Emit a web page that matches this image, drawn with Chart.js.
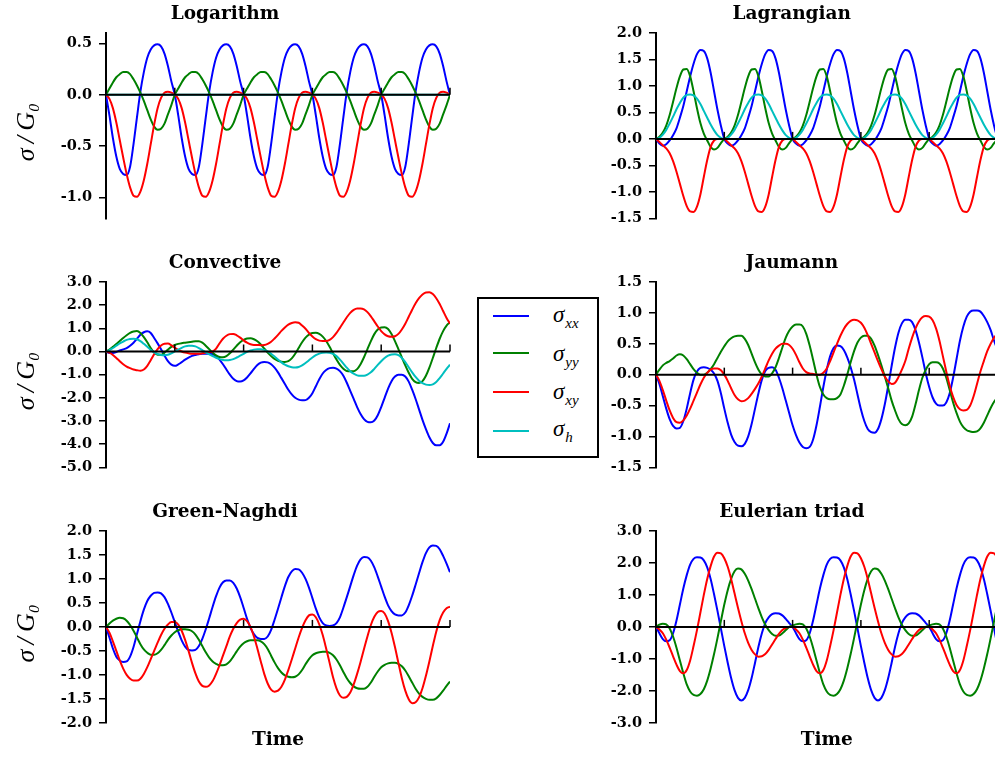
<!DOCTYPE html>
<html>
<head>
<meta charset="utf-8">
<title>Stress response by objective rate</title>
<script src="https://cdn.jsdelivr.net/npm/chart.js@4"></script>
<style>
  html, body { margin: 0; padding: 0; width: 995px; height: 757px; overflow: hidden; background: #fff; }
  canvas { position: absolute; }
  #legend { position: absolute; left: 477px; top: 297px; width: 118px; height: 157px;
            border: 2px solid #000; background: #fff; z-index: 10;
            font-family: "Liberation Serif", "DejaVu Serif", serif; font-style: italic; }
  #legend .sw { position: absolute; left: 14px; width: 36px; height: 2px; }
  #legend .lab { position: absolute; left: 74px; font-size: 23px; line-height: 22px; white-space: nowrap; }
  #legend .lab span { position: relative; top: 6px; font-size: 15px; margin-left: 1px; }
</style>
</head>
<body>
<canvas id="c1"></canvas>
<canvas id="c2"></canvas>
<canvas id="c3"></canvas>
<canvas id="c4"></canvas>
<canvas id="c5"></canvas>
<canvas id="c6"></canvas>
<div id="legend">
  <div class="sw" style="top:16px;background:#0000ff"></div>
  <div class="lab" style="top:5px">σ<span>xx</span></div>
  <div class="sw" style="top:53px;background:#008000"></div>
  <div class="lab" style="top:44px">σ<span>yy</span></div>
  <div class="sw" style="top:92px;background:#ff0000"></div>
  <div class="lab" style="top:82px">σ<span>xy</span></div>
  <div class="sw" style="top:131px;background:#00bfbf"></div>
  <div class="lab" style="top:119px">σ<span>h</span></div>
</div>
<script>
// ---- time samples (shared by every panel) ----
const TIME = [
  0, 0.05, 0.1, 0.15, 0.2, 0.25, 0.3, 0.35, 0.4, 0.45,
  0.5, 0.55, 0.6, 0.65, 0.7, 0.75, 0.8, 0.85, 0.9, 0.95,
  1, 1.05, 1.1, 1.15, 1.2, 1.25, 1.3, 1.35, 1.4, 1.45,
  1.5, 1.55, 1.6, 1.65, 1.7, 1.75, 1.8, 1.85, 1.9, 1.95,
  2, 2.05, 2.1, 2.15, 2.2, 2.25, 2.3, 2.35, 2.4, 2.45,
  2.5, 2.55, 2.6, 2.65, 2.7, 2.75, 2.8, 2.85, 2.9, 2.95,
  3, 3.05, 3.1, 3.15, 3.2, 3.25, 3.3, 3.35, 3.4, 3.45,
  3.5, 3.55, 3.6, 3.65, 3.7, 3.75, 3.8, 3.85, 3.9, 3.95,
  4, 4.05, 4.1, 4.15, 4.2, 4.25, 4.3, 4.35, 4.4, 4.45,
  4.5, 4.55, 4.6, 4.65, 4.7, 4.75, 4.8, 4.85, 4.9, 4.95,
  5
];
const TIME_TICKS = [0, 1, 2, 3, 4, 5];

// σh stays at zero for the Logarithm, Green-Naghdi and Eulerian-triad rates
const SH_ZERO = [
  0,0,0,0,0,0,0,0,0,0, 0,0,0,0,0,0,0,0,0,0,
  0,0,0,0,0,0,0,0,0,0, 0,0,0,0,0,0,0,0,0,0,
  0,0,0,0,0,0,0,0,0,0, 0,0,0,0,0,0,0,0,0,0,
  0,0,0,0,0,0,0,0,0,0, 0,0,0,0,0,0,0,0,0,0,
  0,0,0,0,0,0,0,0,0,0, 0,0,0,0,0,0,0,0,0,0,
  0
];

// ---- Logarithm ----
const LOG_TICKS = [-1.0, -0.5, 0.0, 0.5];
const LOG_SXX = [
  0, -0.20, -0.42, -0.60, -0.72, -0.77, -0.78, -0.70, -0.48, -0.22, 0.03, 0.22, 0.36, 0.44, 0.48, 0.49, 0.47, 0.40, 0.28, 0.13,
  0, -0.20, -0.42, -0.60, -0.72, -0.77, -0.78, -0.70, -0.48, -0.22, 0.03, 0.22, 0.36, 0.44, 0.48, 0.49, 0.47, 0.40, 0.28, 0.13,
  0, -0.20, -0.42, -0.60, -0.72, -0.77, -0.78, -0.70, -0.48, -0.22, 0.03, 0.22, 0.36, 0.44, 0.48, 0.49, 0.47, 0.40, 0.28, 0.13,
  0, -0.20, -0.42, -0.60, -0.72, -0.77, -0.78, -0.70, -0.48, -0.22, 0.03, 0.22, 0.36, 0.44, 0.48, 0.49, 0.47, 0.40, 0.28, 0.13,
  0, -0.20, -0.42, -0.60, -0.72, -0.77, -0.78, -0.70, -0.48, -0.22, 0.03, 0.22, 0.36, 0.44, 0.48, 0.49, 0.47, 0.40, 0.28, 0.13,
  0
];
const LOG_SYY = [
  0, 0.06, 0.12, 0.17, 0.20, 0.22, 0.22, 0.20, 0.15, 0.09, 0.02, -0.06, -0.15, -0.24, -0.31, -0.34, -0.33, -0.28, -0.19, -0.10,
  0, 0.06, 0.12, 0.17, 0.20, 0.22, 0.22, 0.20, 0.15, 0.09, 0.02, -0.06, -0.15, -0.24, -0.31, -0.34, -0.33, -0.28, -0.19, -0.10,
  0, 0.06, 0.12, 0.17, 0.20, 0.22, 0.22, 0.20, 0.15, 0.09, 0.02, -0.06, -0.15, -0.24, -0.31, -0.34, -0.33, -0.28, -0.19, -0.10,
  0, 0.06, 0.12, 0.17, 0.20, 0.22, 0.22, 0.20, 0.15, 0.09, 0.02, -0.06, -0.15, -0.24, -0.31, -0.34, -0.33, -0.28, -0.19, -0.10,
  0, 0.06, 0.12, 0.17, 0.20, 0.22, 0.22, 0.20, 0.15, 0.09, 0.02, -0.06, -0.15, -0.24, -0.31, -0.34, -0.33, -0.28, -0.19, -0.10,
  0
];
const LOG_SXY = [
  0, -0.04, -0.13, -0.27, -0.44, -0.61, -0.77, -0.90, -0.98, -0.99, -0.94, -0.83, -0.67, -0.48, -0.29, -0.13, -0.03, 0.02, 0.03, 0.02,
  0, -0.04, -0.13, -0.27, -0.44, -0.61, -0.77, -0.90, -0.98, -0.99, -0.94, -0.83, -0.67, -0.48, -0.29, -0.13, -0.03, 0.02, 0.03, 0.02,
  0, -0.04, -0.13, -0.27, -0.44, -0.61, -0.77, -0.90, -0.98, -0.99, -0.94, -0.83, -0.67, -0.48, -0.29, -0.13, -0.03, 0.02, 0.03, 0.02,
  0, -0.04, -0.13, -0.27, -0.44, -0.61, -0.77, -0.90, -0.98, -0.99, -0.94, -0.83, -0.67, -0.48, -0.29, -0.13, -0.03, 0.02, 0.03, 0.02,
  0, -0.04, -0.13, -0.27, -0.44, -0.61, -0.77, -0.90, -0.98, -0.99, -0.94, -0.83, -0.67, -0.48, -0.29, -0.13, -0.03, 0.02, 0.03, 0.02,
  0
];

// ---- Lagrangian ----
const LAG_TICKS = [-1.5, -1.0, -0.5, 0.0, 0.5, 1.0, 1.5, 2.0];
const LAG_SXX = [
  0, -0.09, -0.13, -0.10, -0.03, 0.07, 0.20, 0.40, 0.62, 0.90, 1.18, 1.42, 1.60, 1.68, 1.66, 1.52, 1.25, 0.90, 0.55, 0.25,
  0, -0.09, -0.13, -0.10, -0.03, 0.07, 0.20, 0.40, 0.62, 0.90, 1.18, 1.42, 1.60, 1.68, 1.66, 1.52, 1.25, 0.90, 0.55, 0.25,
  0, -0.09, -0.13, -0.10, -0.03, 0.07, 0.20, 0.40, 0.62, 0.90, 1.18, 1.42, 1.60, 1.68, 1.66, 1.52, 1.25, 0.90, 0.55, 0.25,
  0, -0.09, -0.13, -0.10, -0.03, 0.07, 0.20, 0.40, 0.62, 0.90, 1.18, 1.42, 1.60, 1.68, 1.66, 1.52, 1.25, 0.90, 0.55, 0.25,
  0, -0.09, -0.13, -0.10, -0.03, 0.07, 0.20, 0.40, 0.62, 0.90, 1.18, 1.42, 1.60, 1.68, 1.66, 1.52, 1.25, 0.90, 0.55, 0.25,
  0
];
const LAG_SYY = [
  0, 0.04, 0.12, 0.25, 0.45, 0.70, 0.96, 1.18, 1.31, 1.32, 1.18, 0.90, 0.58, 0.30, 0.10, -0.03, -0.15, -0.20, -0.17, -0.08,
  0, 0.04, 0.12, 0.25, 0.45, 0.70, 0.96, 1.18, 1.31, 1.32, 1.18, 0.90, 0.58, 0.30, 0.10, -0.03, -0.15, -0.20, -0.17, -0.08,
  0, 0.04, 0.12, 0.25, 0.45, 0.70, 0.96, 1.18, 1.31, 1.32, 1.18, 0.90, 0.58, 0.30, 0.10, -0.03, -0.15, -0.20, -0.17, -0.08,
  0, 0.04, 0.12, 0.25, 0.45, 0.70, 0.96, 1.18, 1.31, 1.32, 1.18, 0.90, 0.58, 0.30, 0.10, -0.03, -0.15, -0.20, -0.17, -0.08,
  0, 0.04, 0.12, 0.25, 0.45, 0.70, 0.96, 1.18, 1.31, 1.32, 1.18, 0.90, 0.58, 0.30, 0.10, -0.03, -0.15, -0.20, -0.17, -0.08,
  0
];
const LAG_SXY = [
  0, -0.06, -0.12, -0.18, -0.27, -0.42, -0.62, -0.85, -1.08, -1.27, -1.37, -1.38, -1.28, -1.05, -0.72, -0.40, -0.15, -0.03, 0.00, 0.00,
  0, -0.06, -0.12, -0.18, -0.27, -0.42, -0.62, -0.85, -1.08, -1.27, -1.37, -1.38, -1.28, -1.05, -0.72, -0.40, -0.15, -0.03, 0.00, 0.00,
  0, -0.06, -0.12, -0.18, -0.27, -0.42, -0.62, -0.85, -1.08, -1.27, -1.37, -1.38, -1.28, -1.05, -0.72, -0.40, -0.15, -0.03, 0.00, 0.00,
  0, -0.06, -0.12, -0.18, -0.27, -0.42, -0.62, -0.85, -1.08, -1.27, -1.37, -1.38, -1.28, -1.05, -0.72, -0.40, -0.15, -0.03, 0.00, 0.00,
  0, -0.06, -0.12, -0.18, -0.27, -0.42, -0.62, -0.85, -1.08, -1.27, -1.37, -1.38, -1.28, -1.05, -0.72, -0.40, -0.15, -0.03, 0.00, 0.00,
  0
];
const LAG_SH = [
  0, 0.02, 0.08, 0.17, 0.29, 0.42, 0.56, 0.68, 0.78, 0.83, 0.84, 0.82, 0.76, 0.66, 0.53, 0.40, 0.27, 0.16, 0.07, 0.02,
  0, 0.02, 0.08, 0.17, 0.29, 0.42, 0.56, 0.68, 0.78, 0.83, 0.84, 0.82, 0.76, 0.66, 0.53, 0.40, 0.27, 0.16, 0.07, 0.02,
  0, 0.02, 0.08, 0.17, 0.29, 0.42, 0.56, 0.68, 0.78, 0.83, 0.84, 0.82, 0.76, 0.66, 0.53, 0.40, 0.27, 0.16, 0.07, 0.02,
  0, 0.02, 0.08, 0.17, 0.29, 0.42, 0.56, 0.68, 0.78, 0.83, 0.84, 0.82, 0.76, 0.66, 0.53, 0.40, 0.27, 0.16, 0.07, 0.02,
  0, 0.02, 0.08, 0.17, 0.29, 0.42, 0.56, 0.68, 0.78, 0.83, 0.84, 0.82, 0.76, 0.66, 0.53, 0.40, 0.27, 0.16, 0.07, 0.02,
  0
];

// ---- Convective ----
const CONV_TICKS = [-5, -4, -3, -2, -1, 0, 1, 2, 3];
const CONV_SXX = [
  0, -0.06, -0.06, -0.02, 0.04, 0.09, 0.15, 0.25, 0.38, 0.55,
  0.72, 0.83, 0.87, 0.80, 0.58, 0.35, 0.10, -0.18, -0.42, -0.57,
  -0.62, -0.56, -0.46, -0.35, -0.26, -0.19, -0.15, -0.12, -0.10, -0.10,
  -0.10, -0.12, -0.20, -0.35, -0.55, -0.78, -1.00, -1.18, -1.28, -1.30,
  -1.25, -1.12, -0.95, -0.75, -0.58, -0.48, -0.45, -0.47, -0.55, -0.70,
  -0.90, -1.15, -1.40, -1.65, -1.85, -2.00, -2.08, -2.11, -2.10, -2.00,
  -1.80, -1.50, -1.20, -0.95, -0.80, -0.72, -0.70, -0.74, -0.85, -1.05,
  -1.35, -1.70, -2.05, -2.40, -2.70, -2.92, -3.04, -3.06, -2.98, -2.75,
  -2.40, -2.00, -1.60, -1.28, -1.08, -1.00, -1.00, -1.08, -1.30, -1.65,
  -2.05, -2.50, -2.95, -3.35, -3.70, -3.95, -4.05, -4.05, -3.90, -3.55,
  -3.10
];
const CONV_SYY = [
  0, 0.08, 0.20, 0.32, 0.45, 0.58, 0.70, 0.80, 0.86, 0.88,
  0.80, 0.62, 0.40, 0.15, -0.05, -0.14, -0.14, -0.05, 0.08, 0.20,
  0.28, 0.33, 0.36, 0.38, 0.40, 0.42, 0.44, 0.44, 0.38, 0.25,
  0.10, -0.05, -0.17, -0.24, -0.25, -0.20, -0.08, 0.08, 0.25, 0.40,
  0.50, 0.56, 0.57, 0.53, 0.44, 0.30, 0.13, -0.05, -0.20, -0.32,
  -0.40, -0.44, -0.45, -0.42, -0.30, -0.10, 0.15, 0.40, 0.60, 0.73,
  0.80, 0.81, 0.76, 0.64, 0.45, 0.20, -0.08, -0.35, -0.58, -0.74,
  -0.84, -0.85, -0.85, -0.76, -0.55, -0.25, 0.10, 0.45, 0.75, 0.95,
  1.04, 1.05, 0.97, 0.75, 0.45, 0.10, -0.25, -0.60, -0.92, -1.18,
  -1.32, -1.36, -1.28, -1.05, -0.70, -0.28, 0.15, 0.55, 0.88, 1.12,
  1.26
];
const CONV_SXY = [
  0, -0.05, -0.15, -0.28, -0.42, -0.55, -0.65, -0.72, -0.78, -0.81,
  -0.83, -0.78, -0.62, -0.38, -0.12, 0.10, 0.26, 0.33, 0.34, 0.27,
  0.16, 0.07, 0.00, -0.05, -0.08, -0.10, -0.10, -0.10, -0.08, -0.05,
  -0.03, 0.00, 0.12, 0.35, 0.55, 0.68, 0.75, 0.76, 0.70, 0.60,
  0.48, 0.38, 0.31, 0.28, 0.28, 0.27, 0.28, 0.33, 0.42, 0.56,
  0.72, 0.89, 1.04, 1.16, 1.23, 1.26, 1.24, 1.12, 0.98, 0.80,
  0.65, 0.53, 0.47, 0.45, 0.45, 0.50, 0.62, 0.80, 1.02, 1.25,
  1.48, 1.67, 1.80, 1.86, 1.86, 1.82, 1.70, 1.52, 1.30, 1.08,
  0.88, 0.74, 0.66, 0.64, 0.66, 0.76, 0.95, 1.20, 1.50, 1.80,
  2.08, 2.30, 2.46, 2.55, 2.56, 2.48, 2.30, 2.05, 1.75, 1.45,
  1.20
];
const CONV_SH = [
  0, 0.06, 0.15, 0.25, 0.35, 0.43, 0.50, 0.54, 0.55, 0.53,
  0.45, 0.33, 0.20, 0.07, -0.04, -0.11, -0.15, -0.16, -0.14, -0.08,
  0.00, 0.08, 0.16, 0.22, 0.25, 0.25, 0.22, 0.15, 0.06, -0.04,
  -0.12, -0.20, -0.27, -0.33, -0.37, -0.38, -0.37, -0.33, -0.26, -0.18,
  -0.10, -0.02, 0.04, 0.08, 0.10, 0.10, 0.07, 0.00, -0.10, -0.22,
  -0.35, -0.47, -0.57, -0.64, -0.68, -0.69, -0.67, -0.60, -0.50, -0.38,
  -0.26, -0.16, -0.09, -0.05, -0.04, -0.05, -0.10, -0.20, -0.35, -0.52,
  -0.70, -0.85, -0.96, -1.03, -1.05, -1.05, -1.00, -0.90, -0.75, -0.58,
  -0.42, -0.28, -0.18, -0.13, -0.12, -0.16, -0.28, -0.46, -0.68, -0.90,
  -1.10, -1.26, -1.37, -1.43, -1.45, -1.42, -1.32, -1.15, -0.95, -0.75,
  -0.57
];

// ---- Jaumann ----
const JAU_TICKS = [-1.5, -1.0, -0.5, 0.0, 0.5, 1.0, 1.5];
const JAU_SXX = [
  0, -0.15, -0.35, -0.55, -0.72, -0.83, -0.87, -0.86, -0.75, -0.55,
  -0.30, -0.08, 0.05, 0.11, 0.12, 0.11, 0.08, 0.02, -0.10, -0.30,
  -0.55, -0.78, -0.97, -1.09, -1.15, -1.16, -1.12, -1.00, -0.80, -0.55,
  -0.30, -0.08, 0.06, 0.11, 0.12, 0.08, -0.05, -0.22, -0.42, -0.62,
  -0.82, -0.98, -1.10, -1.17, -1.19, -1.17, -1.05, -0.82, -0.52, -0.20,
  0.08, 0.30, 0.43, 0.47, 0.46, 0.40, 0.28, 0.12, -0.08, -0.32,
  -0.56, -0.75, -0.88, -0.93, -0.94, -0.88, -0.72, -0.48, -0.18, 0.14,
  0.44, 0.68, 0.83, 0.89, 0.89, 0.85, 0.72, 0.52, 0.28, 0.02,
  -0.20, -0.37, -0.47, -0.50, -0.50, -0.45, -0.30, -0.05, 0.25, 0.55,
  0.78, 0.94, 1.02, 1.04, 1.04, 1.02, 0.95, 0.85, 0.72, 0.55,
  0.40
];
const JAU_SYY = [
  0, 0.08, 0.15, 0.19, 0.22, 0.26, 0.31, 0.33, 0.31, 0.25,
  0.17, 0.09, 0.03, 0.00, 0.00, 0.03, 0.09, 0.17, 0.27, 0.37,
  0.46, 0.54, 0.59, 0.62, 0.63, 0.63, 0.58, 0.48, 0.34, 0.20,
  0.08, 0.00, -0.03, -0.03, 0.02, 0.12, 0.27, 0.44, 0.60, 0.71,
  0.78, 0.81, 0.81, 0.78, 0.66, 0.47, 0.24, 0.00, -0.20, -0.32,
  -0.38, -0.40, -0.40, -0.38, -0.32, -0.18, 0.00, 0.20, 0.38, 0.52,
  0.60, 0.63, 0.63, 0.58, 0.47, 0.32, 0.15, -0.03, -0.22, -0.42,
  -0.58, -0.72, -0.80, -0.82, -0.79, -0.68, -0.48, -0.25, -0.05, 0.08,
  0.17, 0.20, 0.20, 0.18, 0.10, -0.05, -0.25, -0.45, -0.62, -0.76,
  -0.85, -0.90, -0.92, -0.93, -0.92, -0.87, -0.78, -0.66, -0.54, -0.44,
  -0.36
];
const JAU_SXY = [
  0, -0.10, -0.25, -0.42, -0.58, -0.70, -0.77, -0.78, -0.74, -0.66,
  -0.55, -0.42, -0.29, -0.16, -0.05, 0.03, 0.08, 0.10, 0.10, 0.07,
  0.00, -0.10, -0.22, -0.33, -0.40, -0.43, -0.42, -0.38, -0.31, -0.23,
  -0.14, -0.03, 0.10, 0.23, 0.34, 0.42, 0.47, 0.50, 0.50, 0.48,
  0.42, 0.32, 0.20, 0.10, 0.04, 0.02, 0.01, 0.00, 0.00, 0.03,
  0.10, 0.22, 0.36, 0.50, 0.63, 0.74, 0.82, 0.87, 0.89, 0.88,
  0.84, 0.76, 0.64, 0.50, 0.36, 0.22, 0.09, -0.03, -0.11, -0.15,
  -0.13, -0.04, 0.08, 0.22, 0.42, 0.60, 0.75, 0.86, 0.93, 0.95,
  0.94, 0.88, 0.75, 0.55, 0.30, 0.05, -0.18, -0.36, -0.49, -0.56,
  -0.58, -0.57, -0.50, -0.35, -0.15, 0.05, 0.22, 0.38, 0.50, 0.60,
  0.66
];

// ---- Green-Naghdi ----
const GN_TICKS = [-2.0, -1.5, -1.0, -0.5, 0.0, 0.5, 1.0, 1.5, 2.0];
const GN_SXX = [
  0, -0.22, -0.45, -0.62, -0.70, -0.73, -0.72, -0.62, -0.42, -0.15,
  0.12, 0.36, 0.54, 0.65, 0.71, 0.72, 0.70, 0.62, 0.48, 0.30,
  0.10, -0.10, -0.28, -0.41, -0.48, -0.49, -0.48, -0.40, -0.25, -0.05,
  0.18, 0.42, 0.64, 0.82, 0.93, 0.97, 0.97, 0.92, 0.80, 0.62,
  0.40, 0.17, -0.02, -0.15, -0.23, -0.25, -0.25, -0.20, -0.06, 0.15,
  0.38, 0.62, 0.85, 1.04, 1.16, 1.21, 1.20, 1.13, 1.00, 0.82,
  0.60, 0.38, 0.20, 0.08, 0.03, 0.02, 0.03, 0.08, 0.20, 0.40,
  0.62, 0.85, 1.08, 1.28, 1.41, 1.46, 1.45, 1.38, 1.24, 1.05,
  0.84, 0.63, 0.45, 0.33, 0.26, 0.24, 0.24, 0.30, 0.45, 0.65,
  0.88, 1.12, 1.35, 1.54, 1.66, 1.70, 1.69, 1.62, 1.48, 1.32,
  1.14
];
const GN_SYY = [
  0, 0.07, 0.13, 0.17, 0.19, 0.18, 0.13, 0.04, -0.08, -0.22,
  -0.36, -0.47, -0.54, -0.58, -0.58, -0.55, -0.48, -0.38, -0.27, -0.18,
  -0.11, -0.07, -0.05, -0.05, -0.06, -0.09, -0.16, -0.27, -0.40, -0.53,
  -0.64, -0.72, -0.77, -0.80, -0.80, -0.78, -0.72, -0.62, -0.51, -0.41,
  -0.34, -0.30, -0.28, -0.28, -0.28, -0.30, -0.36, -0.46, -0.60, -0.74,
  -0.86, -0.95, -1.01, -1.04, -1.05, -1.04, -0.99, -0.90, -0.78, -0.67,
  -0.59, -0.55, -0.53, -0.52, -0.52, -0.54, -0.59, -0.68, -0.80, -0.94,
  -1.07, -1.17, -1.24, -1.28, -1.29, -1.29, -1.25, -1.16, -1.04, -0.93,
  -0.84, -0.79, -0.76, -0.75, -0.75, -0.77, -0.82, -0.91, -1.03, -1.16,
  -1.29, -1.39, -1.46, -1.50, -1.52, -1.52, -1.49, -1.42, -1.33, -1.23,
  -1.14
];
const GN_SXY = [
  0, -0.12, -0.30, -0.50, -0.70, -0.87, -1.00, -1.08, -1.12, -1.12,
  -1.08, -0.98, -0.84, -0.67, -0.50, -0.33, -0.17, -0.04, 0.05, 0.10,
  0.10, 0.05, -0.08, -0.27, -0.50, -0.75, -0.97, -1.14, -1.23, -1.25,
  -1.22, -1.13, -0.98, -0.80, -0.60, -0.40, -0.20, -0.04, 0.08, 0.15,
  0.17, 0.12, 0.00, -0.20, -0.45, -0.72, -0.98, -1.18, -1.31, -1.35,
  -1.33, -1.25, -1.10, -0.90, -0.68, -0.45, -0.22, -0.02, 0.14, 0.24,
  0.26, 0.20, 0.05, -0.17, -0.45, -0.75, -1.05, -1.28, -1.43, -1.48,
  -1.46, -1.37, -1.20, -0.98, -0.73, -0.46, -0.20, 0.04, 0.21, 0.31,
  0.33, 0.28, 0.12, -0.12, -0.42, -0.75, -1.07, -1.33, -1.51, -1.59,
  -1.57, -1.47, -1.28, -1.02, -0.72, -0.40, -0.10, 0.14, 0.30, 0.39,
  0.42
];

// ---- Eulerian triad ----
const EUL_TICKS = [-3, -2, -1, 0, 1, 2, 3];
const EUL_SXX = [
  0, -0.20, -0.38, -0.45, -0.42, -0.20, 0.20, 0.70, 1.20, 1.62, 1.95, 2.13, 2.18, 2.17, 2.08, 1.86, 1.50, 1.02, 0.50, -0.05,
  -0.60, -1.12, -1.60, -1.98, -2.22, -2.30, -2.22, -1.98, -1.60, -1.12, -0.62, -0.20, 0.12, 0.30, 0.40, 0.43, 0.42, 0.36, 0.25, 0.12,
  0, -0.20, -0.38, -0.45, -0.42, -0.20, 0.20, 0.70, 1.20, 1.62, 1.95, 2.13, 2.18, 2.17, 2.08, 1.86, 1.50, 1.02, 0.50, -0.05,
  -0.60, -1.12, -1.60, -1.98, -2.22, -2.30, -2.22, -1.98, -1.60, -1.12, -0.62, -0.20, 0.12, 0.30, 0.40, 0.43, 0.42, 0.36, 0.25, 0.12,
  0, -0.20, -0.38, -0.45, -0.42, -0.20, 0.20, 0.70, 1.20, 1.62, 1.95, 2.13, 2.18, 2.17, 2.08, 1.86, 1.50, 1.02, 0.50, -0.05,
  -0.60
];
const EUL_SYY = [
  0, 0.07, 0.10, 0.08, -0.05, -0.30, -0.65, -1.05, -1.45, -1.80, -2.02, -2.13, -2.15, -2.10, -1.95, -1.68, -1.30, -0.85, -0.35, 0.18,
  0.70, 1.15, 1.50, 1.74, 1.83, 1.80, 1.66, 1.45, 1.18, 0.88, 0.58, 0.30, 0.07, -0.10, -0.22, -0.28, -0.27, -0.20, -0.10, 0.00,
  0.04, 0.08, 0.10, 0.08, -0.05, -0.30, -0.65, -1.05, -1.45, -1.80, -2.02, -2.13, -2.15, -2.10, -1.95, -1.68, -1.30, -0.85, -0.35, 0.18,
  0.70, 1.15, 1.50, 1.74, 1.83, 1.80, 1.66, 1.45, 1.18, 0.88, 0.58, 0.30, 0.07, -0.10, -0.22, -0.28, -0.27, -0.20, -0.10, 0.00,
  0.04, 0.08, 0.10, 0.08, -0.05, -0.30, -0.65, -1.05, -1.45, -1.80, -2.02, -2.13, -2.15, -2.10, -1.95, -1.68, -1.30, -0.85, -0.35, 0.18,
  0.70
];
const EUL_SXY = [
  0, -0.08, -0.20, -0.40, -0.65, -0.92, -1.18, -1.38, -1.45, -1.35, -1.05, -0.60, -0.10, 0.45, 1.00, 1.50, 1.90, 2.20, 2.32, 2.30,
  2.15, 1.88, 1.50, 1.05, 0.60, 0.18, -0.20, -0.50, -0.72, -0.86, -0.93, -0.92, -0.85, -0.72, -0.55, -0.38, -0.22, -0.10, -0.03, 0.00,
  0, -0.08, -0.20, -0.40, -0.65, -0.92, -1.18, -1.38, -1.45, -1.35, -1.05, -0.60, -0.10, 0.45, 1.00, 1.50, 1.90, 2.20, 2.32, 2.30,
  2.15, 1.88, 1.50, 1.05, 0.60, 0.18, -0.20, -0.50, -0.72, -0.86, -0.93, -0.92, -0.85, -0.72, -0.55, -0.38, -0.22, -0.10, -0.03, 0.00,
  0, -0.08, -0.20, -0.40, -0.65, -0.92, -1.18, -1.38, -1.45, -1.35, -1.05, -0.60, -0.10, 0.45, 1.00, 1.50, 1.90, 2.20, 2.32, 2.30,
  2.15
];

// ---- drawing ----
const COLORS = { sxx: '#0000ff', syy: '#008000', sxy: '#ff0000', sh: '#00bfbf' };

// zero line with the time ticks standing on it, drawn above the curves
const zeroAxis = {
  id: 'zeroAxis',
  afterDatasetsDraw(chart) {
    const { ctx, chartArea, scales } = chart;
    const y0 = scales.y.getPixelForValue(0);
    ctx.save();
    ctx.strokeStyle = '#000';
    ctx.lineWidth = 2;
    ctx.beginPath();
    ctx.moveTo(chartArea.left, y0);
    ctx.lineTo(chartArea.right, y0);
    ctx.stroke();
    ctx.lineWidth = 1.5;
    for (const t of TIME_TICKS) {
      const x = scales.x.getPixelForValue(t);
      ctx.beginPath();
      ctx.moveTo(x, y0);
      ctx.lineTo(x, y0 - 7);
      ctx.stroke();
    }
    ctx.restore();
  }
};

function panel(id, box, title, yMin, yMax, yTicks, series, showYTitle, showTime) {
  const cv = document.getElementById(id);
  cv.width = box.w; cv.height = box.h;
  cv.style.left = box.x + 'px'; cv.style.top = box.y + 'px';
  cv.style.width = box.w + 'px'; cv.style.height = box.h + 'px';
  const datasets = series.map((s, i) => ({
    label: s.label,
    data: TIME.map((t, k) => ({ x: t, y: s.values[k] })),
    borderColor: s.color,
    borderWidth: 2,
    pointRadius: 0,
    fill: false,
    cubicInterpolationMode: 'monotone',
    order: 4 - i
  }));
  return new Chart(cv, {
    type: 'line',
    data: { datasets },
    plugins: [zeroAxis],
    options: {
      responsive: false,
      animation: false,
      devicePixelRatio: 1,
      layout: { padding: { left: 0, top: 0, right: box.pr, bottom: box.pb } },
      plugins: {
        legend: { display: false },
        tooltip: { enabled: false },
        title: {
          display: true, text: title, color: '#000',
          font: { family: 'DejaVu Serif', weight: 'bold', size: 18.5, lineHeight: 1.2 },
          padding: { top: 3, bottom: 7.8 }
        }
      },
      scales: {
        x: {
          type: 'linear', min: 0, max: 5,
          display: showTime,
          grid: { display: false, drawTicks: false },
          border: { display: false },
          ticks: { display: false },
          title: {
            display: showTime, text: 'Time', color: '#000',
            font: { family: 'DejaVu Serif', weight: 'bold', size: 18.5, lineHeight: 1.2 },
            padding: { top: 6, bottom: 0 }
          }
        },
        y: {
          type: 'linear', min: yMin, max: yMax,
          afterBuildTicks: (s) => { s.ticks = yTicks.map(v => ({ value: v })); },
          afterFit: (s) => { s.width = box.axw; },
          grid: { display: true, drawOnChartArea: false, drawTicks: true, tickLength: 7,
                  color: '#000', lineWidth: 1.5 },
          border: { display: true, color: '#000', width: 2 },
          ticks: {
            color: '#000', padding: 7, autoSkip: false,
            font: { family: 'DejaVu Serif', weight: 'bold', size: 14.5 },
            callback: (v) => Number(v).toFixed(1)
          },
          title: {
            display: showYTitle, text: 'σ\u2009/\u2009G₀\u2002', color: '#000',
            font: { family: 'Liberation Serif', style: 'italic', size: 26, lineHeight: 1.2 },
            padding: { top: 12, bottom: 0 }
          }
        }
      }
    }
  });
}

const LEFT_TOP = { x: 0, y: 0, w: 455, h: 234, axw: 106, pr: 5, pb: 10 };
const RIGHT_TOP = { x: 586, y: 0, w: 417, h: 234, axw: 70, pr: 5.5, pb: 10 };
const LEFT_MID = { x: 0, y: 249, w: 455, h: 234, axw: 106, pr: 5, pb: 10 };
const RIGHT_MID = { x: 586, y: 249, w: 417, h: 234, axw: 70, pr: 5.5, pb: 10 };
const LEFT_BOT = { x: 0, y: 498, w: 455, h: 255, axw: 106, pr: 5, pb: 2 };
const RIGHT_BOT = { x: 586, y: 498, w: 417, h: 255, axw: 70, pr: 5.5, pb: 2 };

panel('c1', LEFT_TOP, 'Logarithm', -1.2, 0.6, LOG_TICKS, [
  { label: 'σxx', values: LOG_SXX, color: COLORS.sxx },
  { label: 'σyy', values: LOG_SYY, color: COLORS.syy },
  { label: 'σxy', values: LOG_SXY, color: COLORS.sxy },
  { label: 'σh', values: SH_ZERO, color: COLORS.sh }
], true, false);

panel('c2', RIGHT_TOP, 'Lagrangian', -1.5, 2.0, LAG_TICKS, [
  { label: 'σxx', values: LAG_SXX, color: COLORS.sxx },
  { label: 'σyy', values: LAG_SYY, color: COLORS.syy },
  { label: 'σxy', values: LAG_SXY, color: COLORS.sxy },
  { label: 'σh', values: LAG_SH, color: COLORS.sh }
], false, false);

panel('c3', LEFT_MID, 'Convective', -5, 3, CONV_TICKS, [
  { label: 'σxx', values: CONV_SXX, color: COLORS.sxx },
  { label: 'σyy', values: CONV_SYY, color: COLORS.syy },
  { label: 'σxy', values: CONV_SXY, color: COLORS.sxy },
  { label: 'σh', values: CONV_SH, color: COLORS.sh }
], true, false);

panel('c4', RIGHT_MID, 'Jaumann', -1.5, 1.5, JAU_TICKS, [
  { label: 'σxx', values: JAU_SXX, color: COLORS.sxx },
  { label: 'σyy', values: JAU_SYY, color: COLORS.syy },
  { label: 'σxy', values: JAU_SXY, color: COLORS.sxy }
], false, false);

panel('c5', LEFT_BOT, 'Green-Naghdi', -2, 2, GN_TICKS, [
  { label: 'σxx', values: GN_SXX, color: COLORS.sxx },
  { label: 'σyy', values: GN_SYY, color: COLORS.syy },
  { label: 'σxy', values: GN_SXY, color: COLORS.sxy },
  { label: 'σh', values: SH_ZERO, color: COLORS.sh }
], true, true);

panel('c6', RIGHT_BOT, 'Eulerian triad', -3, 3, EUL_TICKS, [
  { label: 'σxx', values: EUL_SXX, color: COLORS.sxx },
  { label: 'σyy', values: EUL_SYY, color: COLORS.syy },
  { label: 'σxy', values: EUL_SXY, color: COLORS.sxy },
  { label: 'σh', values: SH_ZERO, color: COLORS.sh }
], false, true);
</script>
</body>
</html>
